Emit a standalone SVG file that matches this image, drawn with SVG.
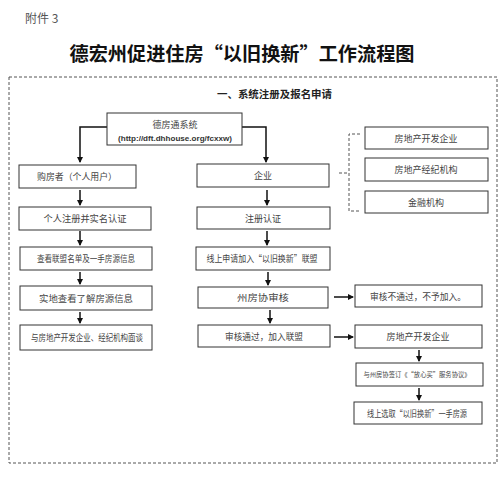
<svg xmlns="http://www.w3.org/2000/svg" width="500" height="485" viewBox="0 0 500 485">
<style>
.bg{fill:#fff}
.box{fill:#fff;stroke:#333;stroke-width:1}
.t{font-family:"Noto Sans CJK SC","Noto Sans",sans-serif;font-size:9px;fill:#444;text-anchor:middle;dominant-baseline:central}
.url{font-family:"Liberation Sans","Noto Sans",sans-serif;font-size:8px;fill:#333;font-weight:bold;text-anchor:middle;dominant-baseline:central}
.ln{fill:none;stroke:#111;stroke-width:1.5}
.dash{fill:none;stroke:#555;stroke-width:1;stroke-dasharray:3,2}
</style>
<defs>
<marker id="ah" markerWidth="6" markerHeight="6" refX="5" refY="3" orient="auto" markerUnits="userSpaceOnUse">
<path d="M0,0 L6,3 L0,6 z" fill="#111"/>
</marker>
</defs>
<rect class="bg" x="0" y="0" width="500" height="485"/>
<text x="25" y="17" style="font-family:'Noto Sans CJK SC',sans-serif;font-size:12px;fill:#555;dominant-baseline:central">附件 3</text>
<text x="242" y="52" textLength="345" lengthAdjust="spacingAndGlyphs" style="font-family:'Noto Sans CJK SC',sans-serif;font-size:19px;font-weight:bold;fill:#111;text-anchor:middle;dominant-baseline:central">德宏州促进住房“以旧换新”工作流程图</text>
<rect class="dash" x="9" y="77" width="488" height="386"/>
<text x="274.5" y="93" textLength="115" lengthAdjust="spacingAndGlyphs" style="font-family:'Noto Sans CJK SC',sans-serif;font-size:10px;font-weight:bold;fill:#222;text-anchor:middle;dominant-baseline:central">一、系统注册及报名申请</text>

<g id="connectors">
<path class="ln" d="M107,127 H80 V162" marker-end="url(#ah)"/>
<path class="ln" d="M242,127 H266 V162" marker-end="url(#ah)"/>
<path class="ln" d="M80,190 V205" marker-end="url(#ah)"/>
<path class="ln" d="M80,231 V245" marker-end="url(#ah)"/>
<path class="ln" d="M80,272 V284" marker-end="url(#ah)"/>
<path class="ln" d="M80,312 V323" marker-end="url(#ah)"/>
<path class="ln" d="M267,190 V205" marker-end="url(#ah)"/>
<path class="ln" d="M267,231 V245" marker-end="url(#ah)"/>
<path class="ln" d="M268,272 V285" marker-end="url(#ah)"/>
<path class="ln" d="M270,310 V323" marker-end="url(#ah)"/>
<path class="ln" d="M334,297 H353" marker-end="url(#ah)"/>
<path class="ln" d="M334,337 H353" marker-end="url(#ah)"/>
<path class="ln" d="M419,350 V361" marker-end="url(#ah)"/>
<path class="ln" d="M419,388 V400" marker-end="url(#ah)"/>
<path class="dash" d="M339,173 H349 M360,134 H349 V211 H360"/>
</g>

<g id="n-dfts"><rect class="box" x="107" y="113" width="135" height="32"/><text class="t" x="175" y="124">德房通系统</text><text class="url" x="175" y="138" textLength="114" lengthAdjust="spacingAndGlyphs">(http://dft.dhhouse.org/fcxxw)</text></g>
<g id="n-buyer"><rect class="box" x="19" y="165" width="117" height="23"/><text class="t" x="77" y="176.5" textLength="80" lengthAdjust="spacingAndGlyphs">购房者（个人用户）</text></g>
<g id="n-reg"><rect class="box" x="19" y="207" width="132" height="23"/><text class="t" x="85" y="218.5" textLength="83" lengthAdjust="spacingAndGlyphs">个人注册并实名认证</text></g>
<g id="n-view"><rect class="box" x="20" y="247" width="132" height="23"/><text class="t" x="86" y="258.5" textLength="98" lengthAdjust="spacingAndGlyphs">查看联盟名单及一手房源信息</text></g>
<g id="n-visit"><rect class="box" x="20" y="286" width="132" height="24"/><text class="t" x="86" y="298" textLength="94" lengthAdjust="spacingAndGlyphs">实地查看了解房源信息</text></g>
<g id="n-talk"><rect class="box" x="20" y="325" width="132" height="25"/><text class="t" x="87" y="337.5" textLength="112" lengthAdjust="spacingAndGlyphs">与房地产开发企业、经纪机构面谈</text></g>

<g id="n-ent"><rect class="box" x="197" y="164" width="132" height="23"/><text class="t" x="263" y="175.5">企业</text></g>
<g id="n-entreg"><rect class="box" x="197" y="207" width="133" height="22"/><text class="t" x="263" y="218">注册认证</text></g>
<g id="n-apply"><rect class="box" x="196" y="247" width="134" height="23"/><text class="t" x="262" y="258.5" textLength="111" lengthAdjust="spacingAndGlyphs">线上申请加入“以旧换新”联盟</text></g>
<g id="n-audit"><rect class="box" x="198" y="287" width="130" height="21"/><text class="t" x="263" y="297.5" textLength="52" lengthAdjust="spacingAndGlyphs">州房协审核</text></g>
<g id="n-pass"><rect class="box" x="198" y="325" width="132" height="22"/><text class="t" x="264" y="336" textLength="78" lengthAdjust="spacingAndGlyphs">审核通过，加入联盟</text></g>

<g id="n-dev"><rect class="box" x="365" y="127" width="123" height="22"/><text class="t" x="426" y="138">房地产开发企业</text></g>
<g id="n-agent"><rect class="box" x="365" y="158" width="123" height="23"/><text class="t" x="426" y="169.5">房地产经纪机构</text></g>
<g id="n-fin"><rect class="box" x="365" y="191" width="123" height="22"/><text class="t" x="426" y="202">金融机构</text></g>

<g id="n-fail"><rect class="box" x="355" y="285" width="127" height="22"/><text class="t" x="418" y="296" textLength="96" lengthAdjust="spacingAndGlyphs">审核不通过，不予加入。</text></g>
<g id="n-dev2"><rect class="box" x="355" y="325" width="127" height="23"/><text class="t" x="418" y="336.5">房地产开发企业</text></g>
<g id="n-sign"><rect class="box" x="356" y="363" width="127" height="23"/><text class="t" x="417" y="374.5" style="font-size:6.3px">与州房协签订《“放心买”服务协议》</text></g>
<g id="n-pick"><rect class="box" x="354" y="402" width="128" height="22"/><text class="t" x="417" y="413" textLength="100" lengthAdjust="spacingAndGlyphs">线上选取“以旧换新”一手房源</text></g>
</svg>
